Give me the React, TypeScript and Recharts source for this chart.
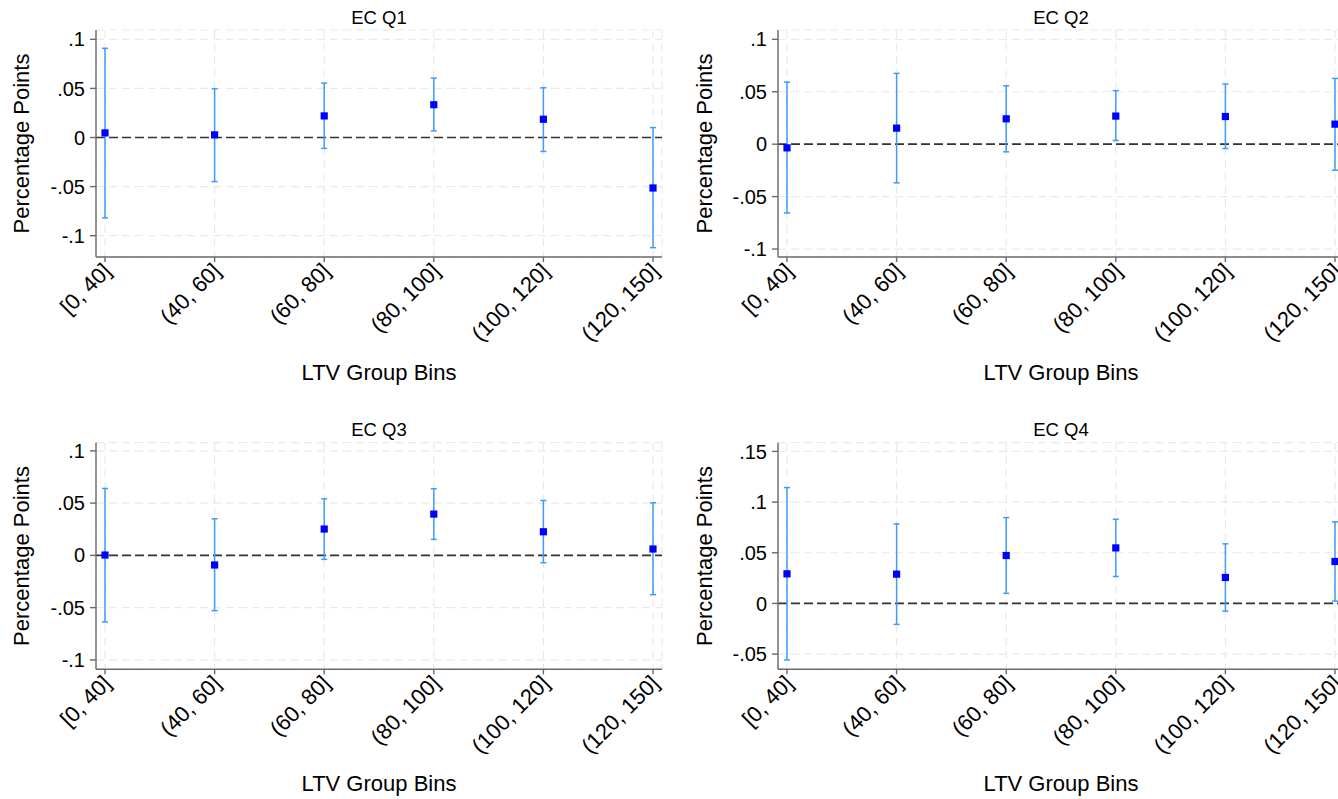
import React from "react";
import {
  ScatterChart,
  Scatter,
  XAxis,
  YAxis,
  CartesianGrid,
  ReferenceLine,
  ErrorBar,
} from "recharts";

// ---------- data ----------
const categories = ["[0, 40]", "(40, 60]", "(60, 80]", "(80, 100]", "(100, 120]", "(120, 150]"];

const q1Est = [0.0047, 0.0027, 0.022, 0.0334, 0.0186, -0.0514];
const q1Lo = [-0.0818, -0.0449, -0.0111, 0.0068, -0.0142, -0.1122];
const q1Hi = [0.0909, 0.0497, 0.0554, 0.0605, 0.0507, 0.0101];

const q2Est = [-0.0035, 0.0153, 0.0242, 0.0268, 0.0264, 0.0191];
const q2Lo = [-0.0656, -0.0369, -0.0073, 0.0035, -0.0041, -0.0248];
const q2Hi = [0.0592, 0.0675, 0.0557, 0.051, 0.0573, 0.0627];

const q3Est = [0.0003, -0.0092, 0.0252, 0.0395, 0.0226, 0.0061];
const q3Lo = [-0.0637, -0.0529, -0.0038, 0.0153, -0.007, -0.0376];
const q3Hi = [0.064, 0.035, 0.0541, 0.0637, 0.0525, 0.0503];

const q4Est = [0.0292, 0.0289, 0.0473, 0.0548, 0.0256, 0.0414];
const q4Lo = [-0.0558, -0.0207, 0.0099, 0.0266, -0.0076, 0.0023];
const q4Hi = [0.1143, 0.0785, 0.0847, 0.0831, 0.0588, 0.0805];

const titles = ["EC Q1", "EC Q2", "EC Q3", "EC Q4"];

const yTicksA = [-0.1, -0.05, 0, 0.05, 0.1];
const yTicksB = [-0.05, 0, 0.05, 0.1, 0.15];

const yDomains: [number, number][] = [
  [-0.1217, 0.1095],
  [-0.1076, 0.1089],
  [-0.109, 0.1078],
  [-0.065, 0.1586],
];

const xLabel = "LTV Group Bins";
const yLabel = "Percentage Points";

// ---------- styling / layout ----------
const FONT = "'Liberation Sans', Arial, Helvetica, sans-serif";
const POINT = "#0000ff";
const CI = "#3d9bff";
const AXIS = "#6a6a6a";
const GRID = "#e9e9e9";

type Panel = {
  left: number;
  top: number;
  width: number;
  height: number;
  yAxisWidth: number;
  marginTop: number;
  xAxisHeight: number;
};

const panels: Panel[] = [
  { left: 0, top: 0, width: 669, height: 400, yAxisWidth: 96, marginTop: 30, xAxisHeight: 143 },
  { left: 669, top: 0, width: 682, height: 400, yAxisWidth: 109, marginTop: 30, xAxisHeight: 143 },
  { left: 0, top: 400, width: 669, height: 399, yAxisWidth: 96, marginTop: 42.7, xAxisHeight: 129.7 },
  { left: 669, top: 400, width: 682, height: 399, yAxisWidth: 109, marginTop: 42.7, xAxisHeight: 129.7 },
];

const fmtY = (v: number) => {
  if (Math.abs(v) < 1e-9) return "0";
  return String(v).replace("0.", ".");
};

function buildData(est: number[], lo: number[], hi: number[]) {
  return est.map((e, i) => ({ x: i, y: e, err: [e - lo[i], hi[i] - e] }));
}

const datasets = [
  buildData(q1Est, q1Lo, q1Hi),
  buildData(q2Est, q2Lo, q2Hi),
  buildData(q3Est, q3Lo, q3Hi),
  buildData(q4Est, q4Lo, q4Hi),
];

const yTicksList = [yTicksA, yTicksA, yTicksA, yTicksB];

function XTick(props: any) {
  const { x, y, payload } = props;
  return (
    <g transform={`translate(${x + 2},${y + 5})`}>
      <text
        textAnchor="end"
        transform="rotate(-45)"
        dy="0.35em"
        fontSize={22}
        fill="#000"
        fontFamily={FONT}
      >
        {categories[payload.value]}
      </text>
    </g>
  );
}

function SquareDot(props: any) {
  const { cx, cy } = props;
  return <rect x={cx - 3.6} y={cy - 3.6} width={7.2} height={7.2} fill={POINT} />;
}

function PanelChart({ idx }: { idx: number }) {
  const p = panels[idx];
  return (
    <div style={{ position: "absolute", left: p.left, top: p.top, width: p.width, height: p.height }}>
      <ScatterChart
        width={p.width}
        height={p.height}
        margin={{ top: p.marginTop, right: 7, bottom: 0, left: 0 }}
      >
        <CartesianGrid stroke={GRID} strokeDasharray="8 5" strokeWidth={1.2} />
        <XAxis
          type="number"
          dataKey="x"
          domain={[0, 5]}
          ticks={[0, 1, 2, 3, 4, 5]}
          padding={{ left: 9, right: 9 }}
          height={p.xAxisHeight}
          tickSize={5}
          tickMargin={0}
          stroke={AXIS}
          strokeWidth={1.4}
          tickLine={{ stroke: AXIS }}
          tick={<XTick />}
          interval={0}
        />
        <YAxis
          type="number"
          dataKey="y"
          domain={yDomains[idx]}
          ticks={yTicksList[idx]}
          width={p.yAxisWidth}
          tickSize={6}
          tickMargin={5}
          stroke={AXIS}
          strokeWidth={1.4}
          tickFormatter={fmtY}
          tick={{ fontSize: 20, fill: "#000", fontFamily: FONT }}
          interval={0}
        />
        <ReferenceLine y={0} stroke="#333" strokeWidth={1.7} strokeDasharray="9 4" />
        <Scatter data={datasets[idx]} shape={<SquareDot />} isAnimationActive={false}>
          <ErrorBar dataKey="err" direction="y" width={3} stroke={CI} strokeWidth={1.5} />
        </Scatter>
      </ScatterChart>
    </div>
  );
}

const titlePos = [
  [379, 24],
  [1061, 24],
  [379, 435.7],
  [1061, 435.7],
];
const xLabelPos = [
  [379, 380],
  [1061, 380],
  [379, 790.7],
  [1061, 790.7],
];
const yLabelPos = [
  [28.5, 143.5],
  [712, 143.5],
  [28.5, 556],
  [712, 556],
];

export default function App() {
  return (
    <div
      style={{
        position: "absolute",
        left: 0,
        top: 0,
        width: 1338,
        height: 799,
        overflow: "hidden",
        background: "#fff",
        fontFamily: FONT,
      }}
    >
      {panels.map((_, i) => (
        <PanelChart key={i} idx={i} />
      ))}
      <svg
        width={1338}
        height={799}
        style={{ position: "absolute", left: 0, top: 0, pointerEvents: "none" }}
      >
        {titles.map((t, i) => (
          <text
            key={"t" + i}
            x={titlePos[i][0]}
            y={titlePos[i][1]}
            textAnchor="middle"
            fontSize={18.5}
            fontFamily={FONT}
            fill="#000"
          >
            {t}
          </text>
        ))}
        {titles.map((_, i) => (
          <text
            key={"x" + i}
            x={xLabelPos[i][0]}
            y={xLabelPos[i][1]}
            textAnchor="middle"
            fontSize={22}
            fontFamily={FONT}
            fill="#000"
          >
            {xLabel}
          </text>
        ))}
        {titles.map((_, i) => (
          <text
            key={"y" + i}
            transform={`translate(${yLabelPos[i][0]},${yLabelPos[i][1]}) rotate(-90)`}
            textAnchor="middle"
            fontSize={22}
            fontFamily={FONT}
            fill="#000"
          >
            {yLabel}
          </text>
        ))}
      </svg>
    </div>
  );
}
